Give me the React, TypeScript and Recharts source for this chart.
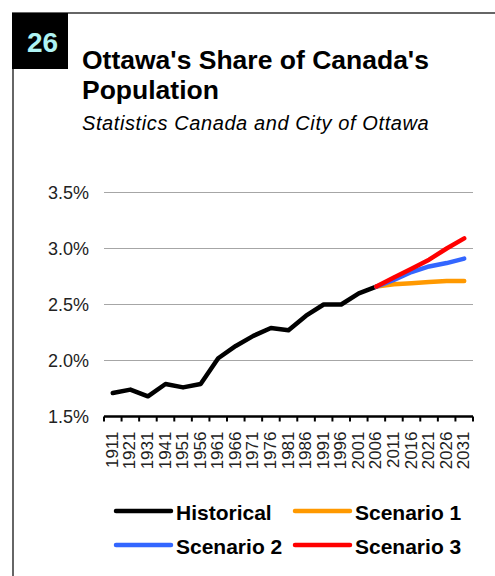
import React from 'react';
import { LineChart, Line, XAxis, YAxis, CartesianGrid } from 'recharts';

const years = ['1911','1921','1931','1941','1951','1956','1961','1966','1971','1976','1981','1986','1991','1996','2001','2006','2011','2016','2021','2026','2031'];
const historical = [1.71,1.74,1.68,1.79,1.76,1.79,2.02,2.13,2.22,2.29,2.27,2.40,2.50,2.50,2.60,2.66,null,null,null,null,null];
const scenario1 = [null,null,null,null,null,null,null,null,null,null,null,null,null,null,null,2.66,2.68,2.69,2.70,2.71,2.71];
const scenario2 = [null,null,null,null,null,null,null,null,null,null,null,null,null,null,null,2.66,2.72,2.79,2.84,2.87,2.91];
const scenario3 = [null,null,null,null,null,null,null,null,null,null,null,null,null,null,null,2.66,2.74,2.82,2.90,3.00,3.09];
const yTicks = [1.5, 2.0, 2.5, 3.0, 3.5];

const series = [
  { key: 'historical', name: 'Historical', color: '#000000' },
  { key: 'scenario1', name: 'Scenario 1', color: '#ff9900' },
  { key: 'scenario2', name: 'Scenario 2', color: '#3366ff' },
  { key: 'scenario3', name: 'Scenario 3', color: '#ff0000' },
];

const data = years.map((y, i) => ({
  year: y,
  historical: historical[i],
  scenario1: scenario1[i],
  scenario2: scenario2[i],
  scenario3: scenario3[i],
}));

const FONT = 'Arial, "Liberation Sans", sans-serif';
const CHART_W = 495;
const Y_AXIS_W = 104;
const RIGHT_M = 22;
const PLOT_W = CHART_W - Y_AXIS_W - RIGHT_M;
const HALF_BAND = PLOT_W / years.length / 2;

const XTick = (props: any) => {
  const { x, y, payload, index } = props;
  const last = index === years.length - 1;
  return (
    <g>
      <line x1={x - HALF_BAND} x2={x - HALF_BAND} y1={y} y2={y + 5} stroke="#000" strokeWidth={2} />
      {last && <line x1={x + HALF_BAND} x2={x + HALF_BAND} y1={y} y2={y + 5} stroke="#000" strokeWidth={2} />}
      <text
        x={x - 1}
        y={y + 15}
        transform={`rotate(-90, ${x - 1}, ${y + 15})`}
        textAnchor="end"
        dy="0.36em"
        fontSize={17}
        fontFamily={FONT}
        fill="#222"
      >
        {payload.value}
      </text>
    </g>
  );
};

const legendPos = [
  { lineX: 116, textX: 176, y: 511, textTop: 500.7 },
  { lineX: 295, textX: 355, y: 511, textTop: 500.7 },
  { lineX: 116, textX: 176, y: 545, textTop: 534.7 },
  { lineX: 295, textX: 355, y: 545, textTop: 534.7 },
];

export default function App() {
  return (
    <div style={{ position: 'absolute', left: 0, top: 0, width: 495, height: 576, background: '#fff', overflow: 'hidden', fontFamily: FONT }}>
      {/* frame */}
      <div style={{ position: 'absolute', left: 12, top: 12, width: 483, height: 2, background: '#666' }} />
      <div style={{ position: 'absolute', left: 12, top: 12, width: 2, height: 564, background: '#666' }} />
      <div style={{ position: 'absolute', left: 12, top: 13, width: 56, height: 56, background: '#000' }} />
      <div style={{ position: 'absolute', left: 27, top: 27.3, fontSize: 28, lineHeight: '32px', fontWeight: 'bold', color: '#aff3f3' }}>26</div>
      <div style={{ position: 'absolute', left: 82, top: 45.1, fontSize: 26.5, lineHeight: '30px', fontWeight: 'bold', color: '#000', whiteSpace: 'nowrap' }}>Ottawa's Share of Canada's</div>
      <div style={{ position: 'absolute', left: 82, top: 75.1, fontSize: 26.5, lineHeight: '30px', fontWeight: 'bold', color: '#000', whiteSpace: 'nowrap' }}>Population</div>
      <div style={{ position: 'absolute', left: 82, top: 111.6, fontSize: 20, lineHeight: '22px', fontStyle: 'italic', letterSpacing: 0.6, color: '#000', whiteSpace: 'nowrap' }}>Statistics Canada and City of Ottawa</div>

      <div style={{ position: 'absolute', left: 0, top: 0 }}>
        <LineChart width={CHART_W} height={480} data={data} margin={{ top: 192.5, right: RIGHT_M, left: 0, bottom: 0 }}>
          <CartesianGrid horizontal={true} vertical={false} stroke="#a6a6a6" strokeWidth={1} />
          <XAxis
            dataKey="year"
            interval={0}
            height={63.5}
            padding={{ left: HALF_BAND, right: HALF_BAND }}
            axisLine={{ stroke: '#000', strokeWidth: 2.5 }}
            tickLine={false}
            tickSize={0}
            tickMargin={0}
            tick={<XTick />}
          />
          <YAxis
            width={Y_AXIS_W}
            domain={[1.5, 3.5]}
            ticks={yTicks}
            axisLine={false}
            tickLine={false}
            tickSize={0}
            tickMargin={15}
            tickFormatter={(v: number) => `${v.toFixed(1)}%`}
            tick={{ fontSize: 18, fill: '#222', fontFamily: FONT }}
          />
          {series.map((s) => (
            <Line
              key={s.key}
              type="linear"
              dataKey={s.key}
              name={s.name}
              stroke={s.color}
              strokeWidth={4.5}
              strokeLinecap="round"
              strokeLinejoin="round"
              dot={false}
              activeDot={false}
              isAnimationActive={false}
            />
          ))}
        </LineChart>
      </div>

      {series.map((s, i) => {
        const p = legendPos[i];
        return (
          <React.Fragment key={s.key}>
            <svg style={{ position: 'absolute', left: p.lineX - 3, top: p.y - 4 }} width={62} height={8}>
              <line x1={3} x2={58} y1={4} y2={4} stroke={s.color} strokeWidth={4.5} strokeLinecap="round" />
            </svg>
            <div style={{ position: 'absolute', left: p.textX, top: p.textTop, fontSize: 21, lineHeight: '24px', fontWeight: 'bold', color: '#000', whiteSpace: 'nowrap' }}>{s.name}</div>
          </React.Fragment>
        );
      })}
    </div>
  );
}
